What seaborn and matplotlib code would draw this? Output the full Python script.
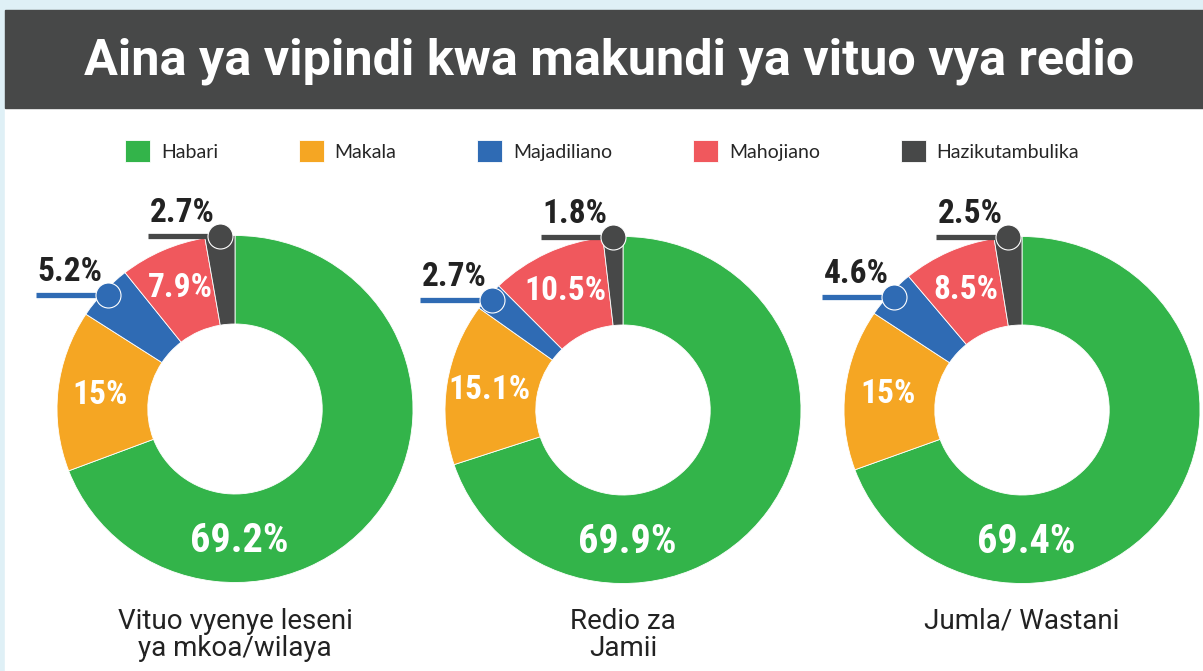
import numpy as np
import seaborn as sns
import matplotlib.pyplot as plt
from matplotlib.patches import Rectangle

# data
categories = ['Habari', 'Makala', 'Majadiliano', 'Mahojiano', 'Hazikutambulika']
leseni = [69.2, 15, 5.2, 7.9, 2.7]
jamii = [69.9, 15.1, 2.7, 10.5, 1.8]
jumla = [69.4, 15, 4.6, 8.5, 2.5]
groups = ['Vituo vyenye leseni\nya mkoa/wilaya', 'Redio za\nJamii', 'Jumla/ Wastani']
title = 'Aina ya vipindi kwa makundi ya vituo vya redio'

colors = ['#33b44a', '#f5a623', '#2f6bb4', '#f0585d', '#474848']

sns.set_theme(style='white')
plt.rcParams['font.family'] = ['Roboto', 'DejaVu Sans']
cond = ['Roboto Condensed', 'Liberation Sans Narrow', 'Roboto', 'DejaVu Sans']

W, H = 1203, 671
fig = plt.figure(figsize=(W / 100, H / 100), dpi=100)
fig.patch.set_facecolor('#dff0f6')


def fbox(x, y, w, h):
    # pixel box (top-left origin) -> figure fraction
    return [x / W, (H - y - h) / H, w / W, h / H]


fig.add_artist(Rectangle(fbox(5, 108, W - 5, H - 108)[:2], (W - 5) / W, (H - 108) / H,
                         transform=fig.transFigure, color='white', zorder=0))
fig.add_artist(Rectangle(fbox(5, 10, W - 5, 98)[:2], (W - 5) / W, 98 / H,
                         transform=fig.transFigure, color='#474848', zorder=0))
fig.text(609 / W, 1 - 61 / H, title, color='white', fontsize=36.3, fontweight='bold',
         ha='center', va='center', family=['Roboto', 'DejaVu Sans'])

centers = [(235, 409), (623, 410), (1022, 410)]
rx, ry = 178, 173.5
first_wedges = None

for (cx, cy), vals, name in zip(centers, [leseni, jamii, jumla], groups):
    ax = fig.add_axes(fbox(cx - rx, cy - ry, 2 * rx, 2 * ry))
    wedges, _ = ax.pie(vals, colors=colors, startangle=90, counterclock=False,
                       radius=1, wedgeprops=dict(width=0.51, edgecolor='white', linewidth=0.6))
    ax.set_aspect('auto')
    ax.set_xlim(-1, 1)
    ax.set_ylim(-1, 1)
    ax.axis('off')
    if first_wedges is None:
        first_wedges = wedges

    big = int(np.argmax(vals))
    for i, (w, v) in enumerate(zip(wedges, vals)):
        mid = np.deg2rad((w.theta1 + w.theta2) / 2)
        txt = f'{v:g}%'
        if i in (2, 4):
            # callout for the thin slices
            r = 0.97 if i == 2 else 1.0
            x, y = r * np.cos(mid), r * np.sin(mid)
            ln = 0.405
            ax.plot([x - ln, x], [y, y], color=colors[i], lw=3.8,
                    solid_capstyle='butt', clip_on=False, zorder=3)
            ax.plot(x, y, 'o', ms=18, mfc=colors[i], mec='white', mew=0.8,
                    clip_on=False, zorder=4)
            ax.annotate(txt, xy=(x - ln / 2 - 0.01, y), xytext=(0, 10),
                        textcoords='offset points', ha='center', va='baseline',
                        fontsize=24, fontweight='bold', color='#222222',
                        family=cond, annotation_clip=False)
        else:
            if i == big:
                mid = np.deg2rad(-88)
            x, y = 0.76 * np.cos(mid), 0.76 * np.sin(mid)
            ax.text(x, y, txt, ha='center', va='center', color='white',
                    fontsize=29 if i == big else 24, fontweight='bold', family=cond)

    fig.text(cx / W, 1 - 608 / H, name, ha='center', va='top', fontsize=20,
             color='#222222', linespacing=0.98)

fig.legend(first_wedges, categories, loc='center', bbox_to_anchor=(602 / W, 1 - 151 / H),
           ncol=5, frameon=False, handlelength=1.3, handleheight=1.3,
           handletextpad=0.55, columnspacing=4.15, prop=dict(family=['Lato', 'DejaVu Sans'], size=14))

fig.savefig('out.png', dpi=100, facecolor=fig.get_facecolor())
